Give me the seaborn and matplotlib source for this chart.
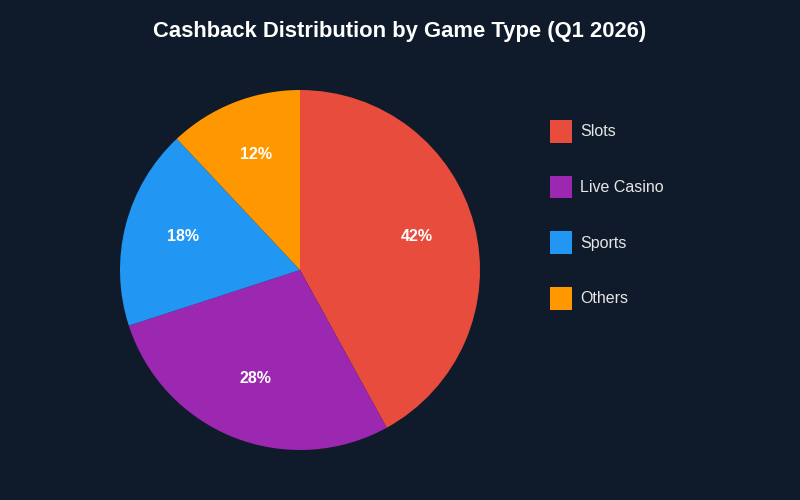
import matplotlib
matplotlib.use("Agg")
import matplotlib.pyplot as plt
import seaborn as sns
from matplotlib.patches import Patch

categories = ["Slots", "Live Casino", "Sports", "Others"]
values = [42, 28, 18, 12]
colors = ["#E74C3C", "#9C27B0", "#2196F3", "#FF9800"]
title = "Cashback Distribution by Game Type (Q1 2026)"

BG = "#0F1B2A"
sns.set_theme(style="dark")
plt.rcParams["font.family"] = ["Liberation Sans", "DejaVu Sans"]

fig = plt.figure(figsize=(8, 5), dpi=100, facecolor=BG)
ax = fig.add_axes([0.15, 0.1, 0.45, 0.72])
ax.set_facecolor(BG)

wedges, texts, autotexts = ax.pie(
    values, colors=colors, startangle=90, counterclock=False,
    autopct=lambda p: f"{p:.0f}%", pctdistance=0.67,
    wedgeprops=dict(linewidth=0),
    textprops=dict(color="white", fontsize=11.5, fontweight="bold"),
)
for t in autotexts:
    x, y = t.get_position()
    t.set_position((x, y + 0.02))
ax.set_aspect("equal")
ax.set_xlim(-1, 1)
ax.set_ylim(-1, 1)
ax.axis("off")

fig.text(0.5, 0.938, title, ha="center", va="center", color="white",
         fontsize=15.8, fontweight="bold")

handles = [Patch(facecolor=c, edgecolor="none", label=l) for c, l in zip(colors, categories)]
leg = fig.legend(handles=handles, loc="upper left", bbox_to_anchor=(0.6875, 0.76),
                 frameon=False, fontsize=11.5, handlelength=1.38, handleheight=1.8,
                 labelspacing=2.07, handletextpad=0.5, borderpad=0, borderaxespad=0)
for t in leg.get_texts():
    t.set_color("#E6E6E6")

fig.savefig("out.png", dpi=100, facecolor=BG)
